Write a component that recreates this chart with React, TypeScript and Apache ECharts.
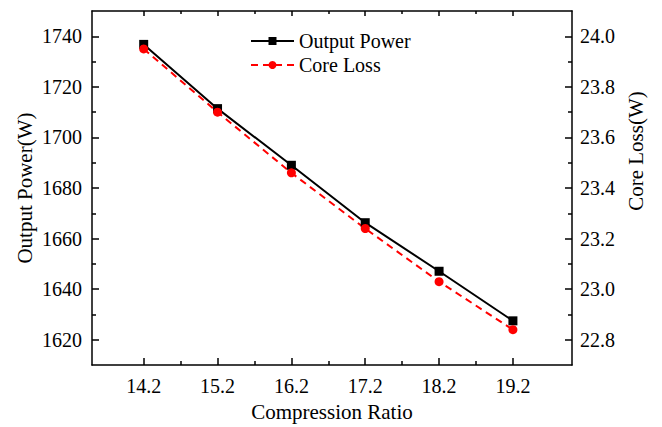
import React, { useEffect, useRef } from "react";
import * as echarts from "echarts";

const compressionRatio = [14.2, 15.2, 16.2, 17.2, 18.2, 19.2];
const outputPower = [1736.8, 1711.4, 1689.0, 1666.3, 1647.1, 1627.5];
const coreLoss = [23.95, 23.7, 23.46, 23.24, 23.03, 22.84];

const xRange = [13.5, 20.0];
const xMajorTicks = [14.2, 15.2, 16.2, 17.2, 18.2, 19.2];
const xMinorTicks = [14.7, 15.7, 16.7, 17.7, 18.7];

const powerRange = [1610, 1750];
const powerMajorTicks = [1620, 1640, 1660, 1680, 1700, 1720, 1740];
const powerMinorTicks = [1630, 1650, 1670, 1690, 1710, 1730];

const lossRange = [22.7, 24.1];
const lossMajorTicks = [22.8, 23.0, 23.2, 23.4, 23.6, 23.8, 24.0];
const lossMinorTicks = [22.9, 23.1, 23.3, 23.5, 23.7, 23.9];

const seriesNames = ["Output Power", "Core Loss"];

const FONT = "'Liberation Serif', 'Times New Roman', 'DejaVu Serif', serif";

export default function App() {
  const ref = useRef<HTMLDivElement>(null);

  useEffect(() => {
    if (!ref.current) return;
    const chart = echarts.init(ref.current, undefined, { renderer: "svg" });

    const lineStyle = { color: "#000", width: 1.5 };
    const label = { color: "#000", fontFamily: FONT, fontSize: 20 };

    const xBase = (position: string, ticks: number[], len: number, main: boolean, withLabels: boolean) => ({
      type: "value",
      position,
      min: xRange[0],
      max: xRange[1],
      axisLine: { show: main, onZero: false, lineStyle },
      axisTick: { show: true, inside: true, length: len, lineStyle, customValues: ticks },
      axisLabel: withLabels
        ? { show: true, ...label, margin: 11, customValues: ticks, formatter: (v: number) => v.toFixed(1) }
        : { show: false },
      splitLine: { show: false },
    });

    const yBase = (
      position: string,
      range: number[],
      ticks: number[],
      len: number,
      main: boolean,
      withLabels: boolean,
      digits: number,
      margin: number
    ) => ({
      type: "value",
      position,
      min: range[0],
      max: range[1],
      axisLine: { show: main, onZero: false, lineStyle },
      axisTick: { show: true, inside: true, length: len, lineStyle, customValues: ticks },
      axisLabel: withLabels
        ? { show: true, ...label, margin, customValues: ticks, formatter: (v: number) => v.toFixed(digits) }
        : { show: false },
      splitLine: { show: false },
    });

    const xMain: any = xBase("bottom", xMajorTicks, 7, true, true);
    xMain.name = "Compression Ratio";
    xMain.nameLocation = "middle";
    xMain.nameGap = 34;
    xMain.nameTextStyle = { ...label, fontSize: 21 };

    const yLeft: any = yBase("left", powerRange, powerMajorTicks, 7, true, true, 0, 10);
    yLeft.name = "Output Power(W)";
    yLeft.nameLocation = "middle";
    yLeft.nameRotate = 90;
    yLeft.nameGap = 57;
    yLeft.nameMoveOverlap = false;
    yLeft.nameTextStyle = { ...label, fontSize: 21 };

    const yRight: any = yBase("right", lossRange, lossMajorTicks, 7, true, true, 1, 8);
    yRight.name = "Core Loss(W)";
    yRight.nameLocation = "middle";
    yRight.nameRotate = 90;
    yRight.nameGap = 52;
    yRight.nameTextStyle = { ...label, fontSize: 21, padding: [0, 0, 0, 74] };

    chart.setOption({
      animation: false,
      backgroundColor: "#fff",
      textStyle: { fontFamily: FONT },
      grid: { left: 92, top: 11, right: 90, bottom: 58, containLabel: false },
      legend: {
        data: seriesNames,
        orient: "vertical",
        left: 245,
        top: 26,
        itemWidth: 43,
        itemHeight: 10,
        itemGap: 4,
        textStyle: { ...label, fontSize: 20 },
      },
      xAxis: [
        xMain,
        xBase("bottom", xMinorTicks, 4, false, false),
        xBase("top", xMajorTicks, 5, true, false),
        xBase("top", xMinorTicks, 3, false, false),
      ],
      yAxis: [
        yLeft,
        yRight,
        yBase("left", powerRange, powerMinorTicks, 4, false, false, 0, 10),
        yBase("right", lossRange, lossMinorTicks, 4, false, false, 1, 8),
      ],
      series: [
        {
          name: seriesNames[0],
          type: "line",
          xAxisIndex: 0,
          yAxisIndex: 0,
          data: compressionRatio.map((x, i) => [x, outputPower[i]]),
          symbol: "rect",
          symbolSize: 9,
          itemStyle: { color: "#000" },
          lineStyle: { color: "#000", width: 2 },
        },
        {
          name: seriesNames[1],
          type: "line",
          xAxisIndex: 0,
          yAxisIndex: 1,
          data: compressionRatio.map((x, i) => [x, coreLoss[i]]),
          symbol: "circle",
          symbolSize: 9,
          itemStyle: { color: "#ff0000" },
          lineStyle: { color: "#ff0000", width: 2, type: [7, 5] },
        },
      ],
    });

    return () => chart.dispose();
  }, []);

  return (
    <div
      ref={ref}
      style={{ position: "fixed", left: 0, top: 0, width: 662, height: 427, background: "#fff" }}
    />
  );
}
